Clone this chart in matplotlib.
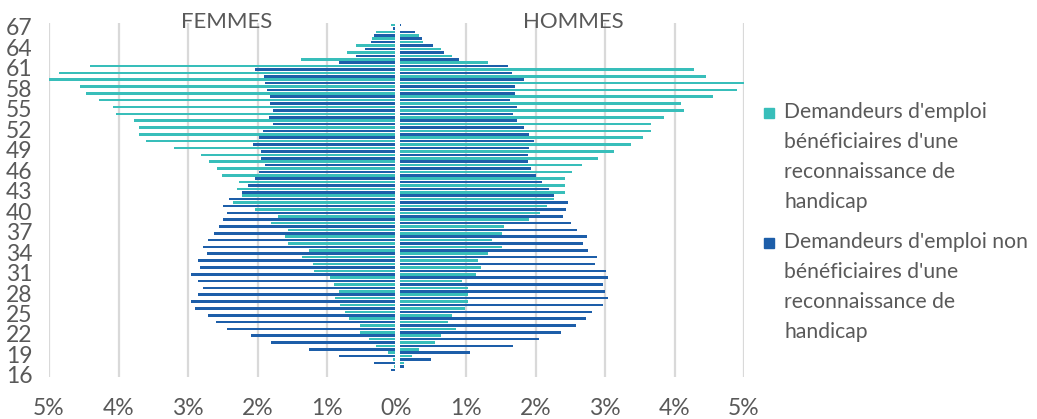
import matplotlib
matplotlib.use('Agg')
import matplotlib.pyplot as plt
from matplotlib.patches import Rectangle
import numpy as np

# ---- data (percent of each population), ages from 67 down to 16 ----
ages = list(range(67, 15, -1))

femmes_handicap = [0.08, 0.30, 0.35, 0.58, 0.71, 1.38, 4.41, 4.85, 5.01, 4.55,
                   4.47, 4.28, 4.08, 4.03, 3.78, 3.70, 3.70, 3.61, 3.20, 2.81,
                   2.70, 2.58, 2.51, 2.26, 2.30, 2.23, 2.35, 2.03, 1.71, 1.80,
                   1.56, 1.61, 1.56, 1.26, 1.36, 1.20, 1.18, 0.95, 0.90, 0.83,
                   0.88, 0.81, 0.74, 0.68, 0.53, 0.52, 0.40, 0.30, 0.12, 0.05,
                   0.03, 0.01]
femmes_non = [0.05, 0.33, 0.37, 0.46, 0.58, 0.83, 2.03, 1.91, 1.89, 1.87,
              1.82, 1.82, 1.78, 1.83, 1.78, 1.92, 1.98, 2.06, 1.95, 1.95,
              1.89, 1.98, 2.03, 2.14, 2.23, 2.41, 2.49, 2.44, 2.49, 2.56,
              2.62, 2.71, 2.78, 2.73, 2.85, 2.83, 2.95, 2.85, 2.78, 2.85,
              2.95, 2.90, 2.71, 2.60, 2.44, 2.10, 1.80, 1.26, 0.83, 0.33,
              0.08, 0.02]
hommes_non = [0.06, 0.27, 0.37, 0.53, 0.69, 0.90, 1.61, 1.66, 1.84, 1.71,
              1.71, 1.63, 1.73, 1.68, 1.73, 1.83, 1.91, 1.98, 1.91, 1.89,
              1.89, 1.94, 2.00, 2.10, 2.19, 2.26, 2.47, 2.44, 2.39, 2.51,
              2.60, 2.74, 2.69, 2.76, 2.88, 2.86, 3.02, 3.04, 2.97, 3.00,
              3.04, 2.97, 2.81, 2.72, 2.58, 2.37, 2.05, 1.68, 1.06, 0.50,
              0.11, 0.02]
hommes_handicap = [0.03, 0.32, 0.38, 0.64, 0.80, 1.31, 4.28, 4.45, 5.02, 4.90,
                   4.56, 4.10, 4.13, 3.85, 3.66, 3.66, 3.55, 3.37, 3.13, 2.90,
                   2.67, 2.53, 2.42, 2.42, 2.42, 2.26, 2.16, 2.07, 1.91, 1.54,
                   1.52, 1.38, 1.52, 1.31, 1.17, 1.22, 1.15, 0.94, 1.03, 1.03,
                   1.03, 0.99, 0.80, 0.74, 0.85, 0.64, 0.55, 0.32, 0.23, 0.11,
                   0.01, 0.01]

ytick_ages = list(range(67, 15, -3))
xtick_values = [-5, -4, -3, -2, -1, 0, 1, 2, 3, 4, 5]
xtick_labels = ['5%', '4%', '3%', '2%', '1%', '0%', '1%', '2%', '3%', '4%', '5%']

label_handicap = "Demandeurs d'emploi\nbénéficiaires d'une\nreconnaissance de\nhandicap"
label_non = "Demandeurs d'emploi non\nbénéficiaires d'une\nreconnaissance de\nhandicap"

# ---- style ----
TEAL = '#38BEBA'
BLUE = '#1D5EA9'
GREY = '#595959'
GRID = '#D9D9D9'

plt.rcParams['font.family'] = ['Lato', 'DejaVu Sans']

W, H = 1037, 419
fig = plt.figure(figsize=(W / 100, H / 100), dpi=100)
ax = fig.add_axes([49 / W, 1 - 377 / H, (744 - 49) / W, (377 - 23) / H])

y = np.array(ages, dtype=float)
bh = 0.38
off = 0.25

ax.barh(y + off, -np.array(femmes_handicap), height=bh, color=TEAL, zorder=2)
ax.barh(y - off, -np.array(femmes_non), height=bh, color=BLUE, zorder=2)
ax.barh(y + off, np.array(hommes_non), height=bh, color=BLUE, zorder=2)
ax.barh(y - off, np.array(hommes_handicap), height=bh, color=TEAL, zorder=2)

# small white gap at the centre, as in the original
ax.axvspan(-0.02, 0.045, color='white', zorder=3, lw=0)

ax.set_xlim(-5, 5)
ax.set_ylim(15.7, 67.56)
ax.set_xticks(xtick_values)
ax.set_xticklabels(xtick_labels)
ax.set_yticks(ytick_ages)
ax.set_yticklabels([str(a) for a in ytick_ages])

ax.grid(axis='x', color=GRID, lw=1.6, zorder=0)
ax.set_axisbelow(True)
for s in ax.spines.values():
    s.set_visible(False)
ax.tick_params(axis='both', length=0, labelsize=16.5, colors=GREY)
ax.tick_params(axis='x', pad=15)
ax.tick_params(axis='y', pad=12)

fig.text(226.7 / W, 1 - 22 / H, 'FEMMES', ha='center', va='center', fontsize=16, color=GREY)
fig.text(573 / W, 1 - 22 / H, 'HOMMES', ha='center', va='center', fontsize=16, color=GREY)

# legend
for (ytop, col, lab) in [(102, TEAL, label_handicap), (232, BLUE, label_non)]:
    fig.patches.append(Rectangle((764 / W, 1 - (ytop + 16) / H), 10 / W, 10 / H,
                                 transform=fig.transFigure, color=col))
    fig.text(784 / W, 1 - ytop / H, lab, ha='left', va='top', fontsize=15.2,
             color=GREY, linespacing=1.62)

fig.savefig('out.png', dpi=100)
